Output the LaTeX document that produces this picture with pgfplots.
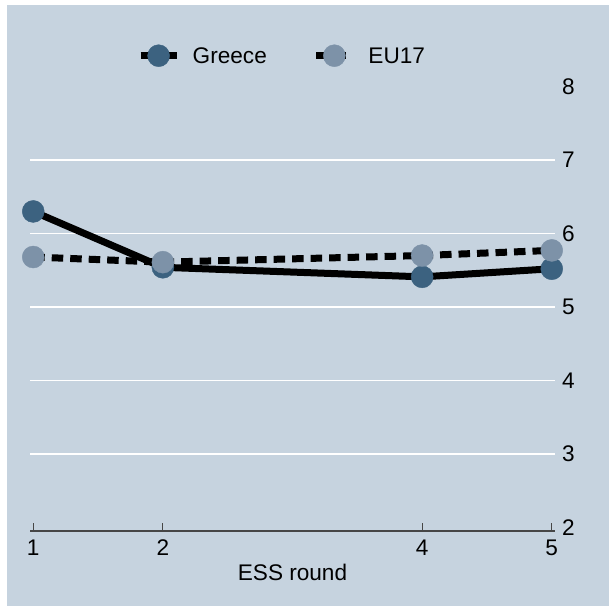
\documentclass[border=0pt]{standalone}
\usepackage{fontspec}
\setmainfont{Liberation Sans}
\usepackage{pgfplots}
\pgfplotsset{compat=1.18}

\definecolor{bg}{RGB}{198,211,223}
\definecolor{greece}{RGB}{60,98,128}
\definecolor{eu}{RGB}{125,146,168}
\definecolor{axgray}{RGB}{70,70,70}

\newcommand{\chartfont}{\fontsize{11.3}{13.5}\selectfont}

\begin{document}
\begin{tikzpicture}
\path[use as bounding box] (-15pt,-37.5pt) rectangle (289.5pt,265.5pt);
\fill[bg] (-11.5pt,-37.5pt) rectangle (289.5pt,263pt);
\begin{axis}[
  scale only axis, width=262.5pt, height=222.25pt,
  xmin=0.975, xmax=5.025, ymin=1.952, ymax=8,
  clip=false,
  axis x line*=bottom, axis y line*=right,
  y axis line style={draw=none},
  x axis line style={draw=axgray, line width=0.6pt},
  xtick={1,2,4,5},
  ytick={3,...,7},
  extra y ticks={2,8},
  extra y tick style={grid=none},
  ymajorgrids, grid style={white, line width=0.8pt},
  ytick style={draw=none},
  xtick style={draw=axgray, line width=0.6pt},
  tick align=inside, major tick length=4pt,
  /pgf/number format/assume math mode=true,
  tick label style={font=\chartfont},
  xticklabel style={yshift=-1pt},
  xlabel={ESS round},
  label style={font=\chartfont},
  xlabel style={at={(axis description cs:0.5,0)}, anchor=north, yshift=-13.25pt},
  legend columns=2,
  legend style={at={(0.2033,1.0693)}, anchor=west, draw=none, fill=none,
    inner sep=0pt, font=\chartfont,
    nodes={inner sep=0pt, text depth=0pt},
    cells={anchor=west},
    /tikz/every odd column/.append style={column sep=6.3pt},
    /tikz/every even column/.append style={column sep=23pt}},
  legend image code/.code={
    \draw[mark repeat=2, mark phase=2, #1] plot coordinates {(0pt,0pt) (9pt,0pt) (18pt,0pt)};
  },
]
% Greece
\addplot[black, line width=3.5pt, mark=*, mark size=5.5pt,
  mark options={solid, fill=greece, draw=greece, line width=0.2pt}]
  coordinates {(1,6.30) (2,5.54) (4,5.41) (5,5.52)};
\addlegendentry{Greece}
% EU17
\addplot[black, line width=3.5pt, dash pattern=on 5.75pt off 3.5pt,
  mark=*, mark size=5.5pt,
  mark options={solid, fill=eu, draw=eu, line width=0.2pt}]
  coordinates {(1,5.68) (2,5.61) (4,5.70) (5,5.77)};
\addlegendentry{EU17}
\end{axis}
\end{tikzpicture}
\end{document}
